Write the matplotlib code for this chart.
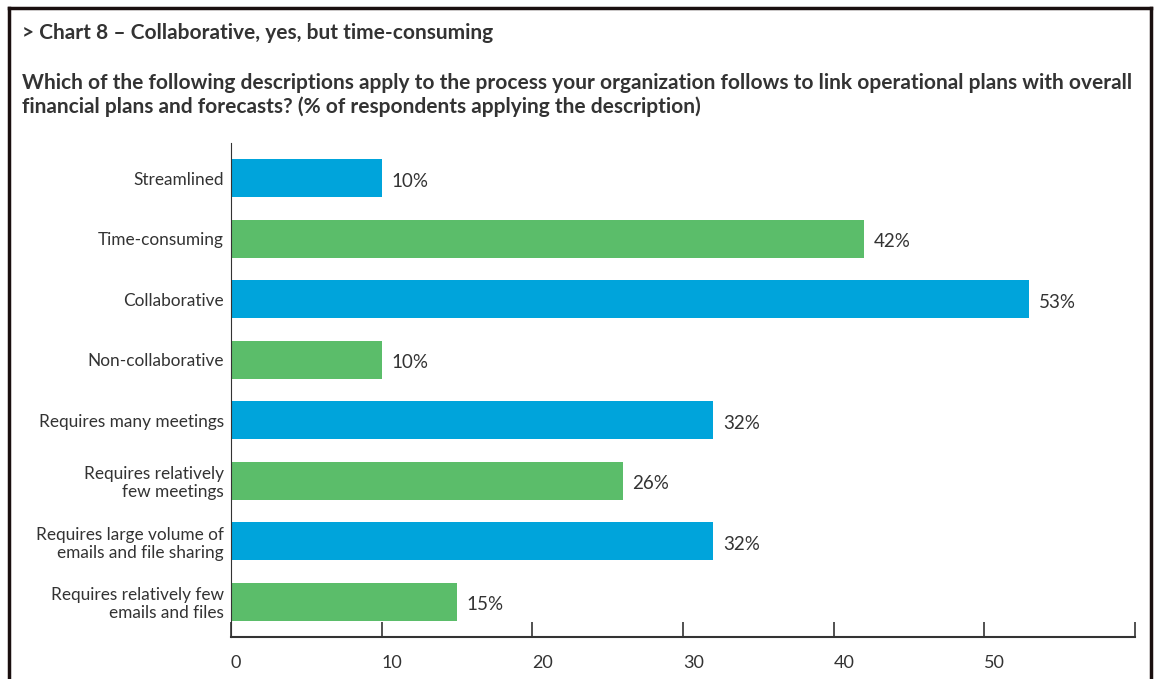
import matplotlib.pyplot as plt
from matplotlib.lines import Line2D
import numpy as np

plt.rcParams['font.family'] = ['Lato', 'DejaVu Sans']

categorias = ["Streamlined", "Time-consuming", "Collaborative", "Non-collaborative",
              "Requires many meetings", "Requires relatively\nfew meetings",
              "Requires large volume of\nemails and file sharing",
              "Requires relatively few\nemails and files"]
valores = [10, 42, 53, 10, 32, 26, 32, 15]
colores = ["#00a4db", "#5bbd6a"] * 4
ticks_x = [0, 10, 20, 30, 40, 50, 60]
etiquetas_x = ["0", "10", "20", "30", "40", "50", ""]

texto = "#333333"

fig = plt.figure(figsize=(11.56, 6.79), dpi=100)
ax = fig.add_axes([0.1998, 0.0619, 0.7820, 0.7275])

posiciones = np.arange(len(categorias))
ax.barh(posiciones, valores, height=0.63, color=colores)
for p, v in zip(posiciones, valores):
    ax.text(v + 0.65, p + 0.05, f"{v}%", va="center", ha="left", fontsize=13.5, color=texto)

ax.set_ylim(len(categorias) - 1 + 0.58, -0.58)
ax.set_xlim(0, 60)
ax.set_yticks(posiciones)
ax.set_yticklabels(categorias, fontsize=12.4, color=texto, linespacing=1.15)
ax.tick_params(axis="y", length=0, pad=5)
ax.set_xticks(ticks_x)
ax.set_xticklabels(etiquetas_x, fontsize=13, color=texto)
ax.tick_params(axis="x", direction="in", length=11, width=1.2, color="#333333", pad=13)
for lbl in ax.get_xticklabels():
    lbl.set_horizontalalignment("left")

for lado in ["top", "right"]:
    ax.spines[lado].set_visible(False)
ax.spines["left"].set_color("#333333")
ax.spines["bottom"].set_color("#333333")
ax.spines["bottom"].set_linewidth(1.5)

# marco alrededor del grafico
for xs, ys in [([0.0076, 0.0076], [0, 0.988]), ([0.0076, 0.9955], [0.988, 0.988]),
               ([0.9955, 0.9955], [0, 0.988])]:
    fig.add_artist(Line2D(xs, ys, color="#1a0f0f", linewidth=2.5, transform=fig.transFigure))

fig.text(0.019, 0.951, "> Chart 8 – Collaborative, yes, but time-consuming",
         fontsize=15.0, fontweight="bold", color=texto, va="center")
fig.text(0.019, 0.860,
         "Which of the following descriptions apply to the process your organization follows to link operational plans with overall\n"
         "financial plans and forecasts? (% of respondents applying the description)",
         fontsize=15.0, fontweight="bold", color=texto, va="center", linespacing=1.25)

fig.savefig("out.png", dpi=100)
